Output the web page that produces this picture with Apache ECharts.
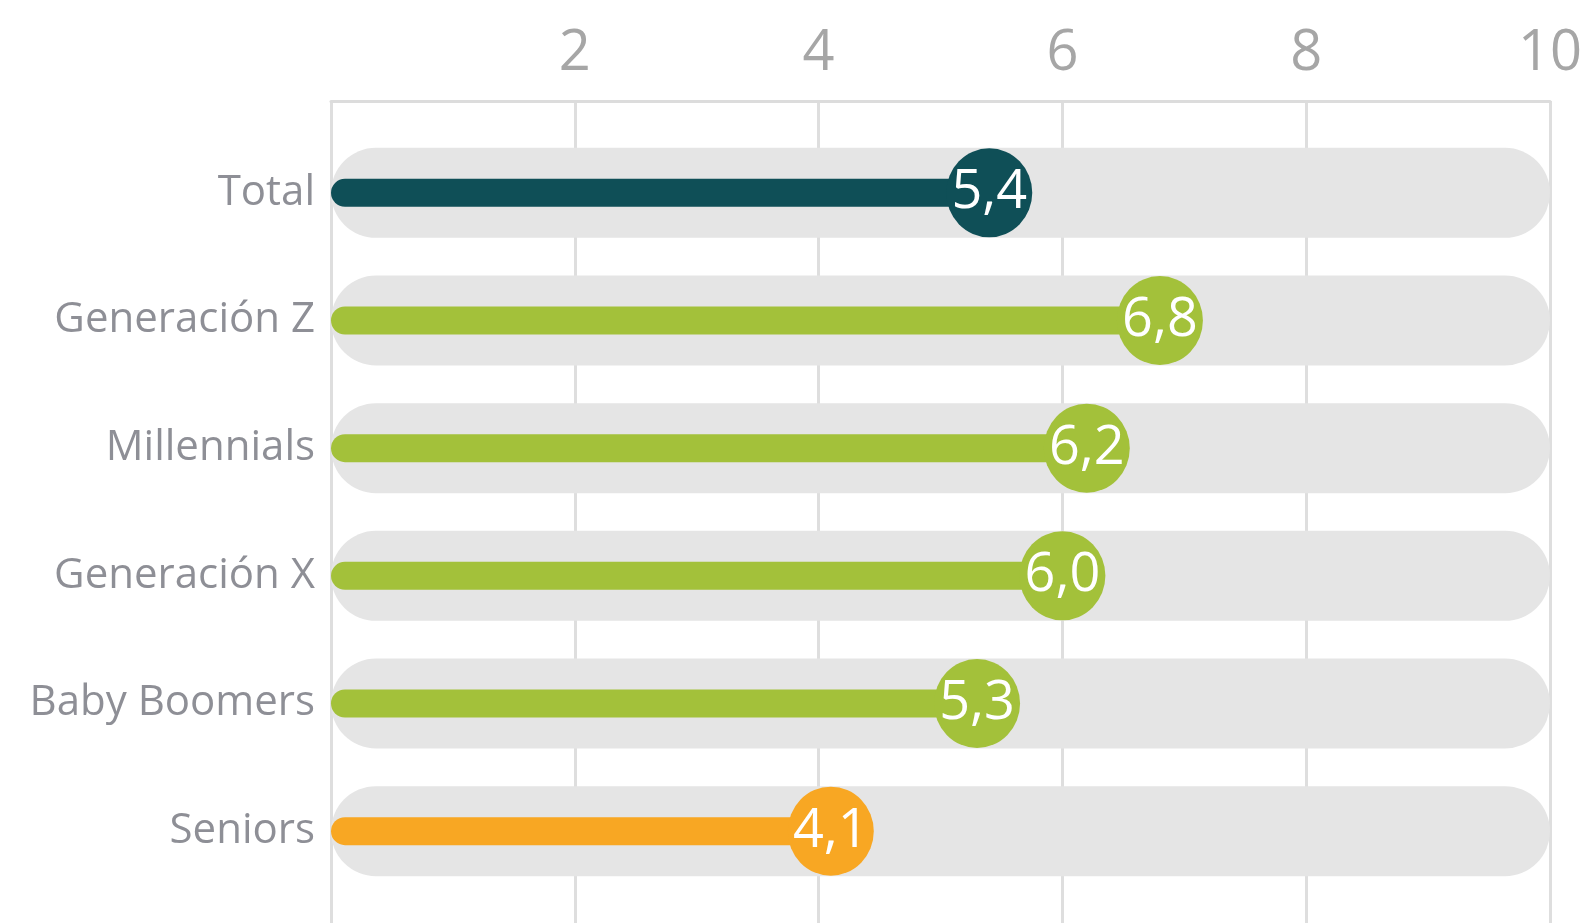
<!DOCTYPE html>
<html>
<head>
<meta charset="utf-8">
<script src="https://cdn.jsdelivr.net/npm/echarts@6/dist/echarts.min.js"></script>
<style>
  html, body { margin: 0; padding: 0; background: #fff; }
  #chart { width: 1592px; height: 923px; }
</style>
</head>
<body>
<div id="chart"></div>
<script>
// datos del gráfico
const categories = ['Total', 'Generación Z', 'Millennials', 'Generación X', 'Baby Boomers', 'Seniors'];
const scores = [5.4, 6.8, 6.2, 6.0, 5.3, 4.1];
const scaleMax = 10;
const tickStep = 2;

// colores por grupo
const TEAL = '#0f4f57';
const GREEN = '#a3c13a';
const ORANGE = '#f8a723';
function colorFor(name) {
  if (name === 'Total') return TEAL;
  if (name === 'Seniors') return ORANGE;
  return GREEN;
}

const chart = echarts.init(document.getElementById('chart'));
const font = '"Open Sans", "DejaVu Sans", sans-serif';

const option = {
  animation: false,
  backgroundColor: '#ffffff',
  grid: [
    // marco con rejilla
    { left: 331, right: 42, top: 101, bottom: -10 },
    // barras
    { left: 331, right: 42, top: 129, bottom: 28 }
  ],
  xAxis: [
    {
      gridIndex: 0,
      type: 'value',
      position: 'top',
      min: 0,
      max: scaleMax,
      interval: tickStep,
      axisLine: { show: true, onZero: false, lineStyle: { color: '#dcdcdc', width: 3 } },
      axisTick: { show: false },
      splitLine: { show: true, lineStyle: { color: '#dedede', width: 3 } },
      axisLabel: {
        margin: 19,
        fontFamily: font,
        fontSize: 56,
        color: '#a6a6a6',
        formatter: v => (v === 0 ? '' : String(v))
      }
    },
    {
      gridIndex: 1,
      type: 'value',
      min: 0,
      max: scaleMax,
      show: false
    }
  ],
  yAxis: [
    { gridIndex: 0, type: 'value', show: false, min: 0, max: 1 },
    {
      gridIndex: 1,
      type: 'category',
      data: categories,
      inverse: true,
      axisLine: { show: false },
      axisTick: { show: false },
      axisLabel: {
        margin: 16,
        fontFamily: font,
        fontSize: 42,
        color: '#8e8f96'
      }
    },
    {
      gridIndex: 1,
      type: 'category',
      data: categories,
      inverse: true,
      show: false
    }
  ],
  series: [
    {
      // fondo gris redondeado
      type: 'bar',
      xAxisIndex: 1,
      yAxisIndex: 1,
      barWidth: 90,
      data: categories.map(() => scaleMax),
      itemStyle: { color: '#e5e5e5', borderRadius: 45 },
      silent: true
    },
    {
      type: 'bar',
      xAxisIndex: 1,
      yAxisIndex: 2,
      barWidth: 28,
      data: scores.map((v, i) => ({ value: v, itemStyle: { color: colorFor(categories[i]) } })),
      itemStyle: { borderRadius: 14 },
      silent: true
    },
    {
      type: 'scatter',
      xAxisIndex: 1,
      yAxisIndex: 2,
      symbol: 'circle',
      symbolSize: [86, 89],
      data: scores.map((v, i) => ({ value: [v, categories[i]], itemStyle: { color: colorFor(categories[i]), opacity: 1 } })),
      label: {
        show: true,
        position: 'inside',
        fontFamily: font,
        fontSize: 54,
        color: '#ffffff',
        formatter: p => p.value[0].toFixed(1).replace('.', ',')
      },
      z: 5,
      silent: true
    }
  ]
};

chart.setOption(option);
</script>
</body>
</html>
